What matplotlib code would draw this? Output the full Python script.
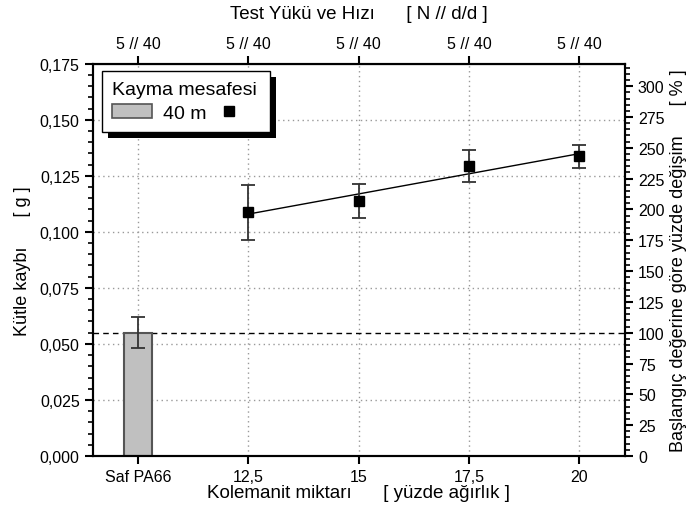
import numpy as np
import matplotlib
matplotlib.use('Agg')
import matplotlib.pyplot as plt
from matplotlib.ticker import MultipleLocator, FuncFormatter
from matplotlib.patches import Patch, Rectangle
from matplotlib.lines import Line2D

plt.rcParams['font.family'] = ['Liberation Sans', 'DejaVu Sans']

# veriler
categories = ['Saf PA66', '12,5', '15', '17,5', '20']
top_labels = ['5 // 40', '5 // 40', '5 // 40', '5 // 40', '5 // 40']
bar_value = 0.055
bar_err_lo = 0.007
bar_err_hi = 0.007
pt_values = [0.1089, 0.1138, 0.1293, 0.1337]
pt_err_lo = [0.0125, 0.0075, 0.0070, 0.0053]
pt_err_hi = [0.0121, 0.0076, 0.0072, 0.0049]

dark = '#333333'
xpos = np.arange(len(categories))
tick_fs = 11.5

fig = plt.figure(figsize=(6.88, 5.10), dpi=100)
ax = fig.add_axes([0.135, 0.104, 0.773, 0.769])

ax.set_xlim(-0.41, 4.41)
ax.set_ylim(0, 0.175)

# izgara
for yv in np.arange(0.025, 0.175, 0.025):
    ax.axhline(yv, color='#999999', linestyle=(0, (1, 2.5)), linewidth=1, zorder=0)
for xv in xpos:
    ax.axvline(xv, color='#999999', linestyle=(0, (1, 2.5)), linewidth=1, zorder=0)

# referans çizgisi (%100)
ax.axhline(bar_value, color='black', linestyle=(0, (4, 3)), linewidth=1, zorder=1)

# çubuk
ax.bar(xpos[0], bar_value, width=0.25, color='#c0c0c0', edgecolor='#555555',
       linewidth=1.5, zorder=2)
ax.errorbar(xpos[0], bar_value, yerr=[[bar_err_lo], [bar_err_hi]], fmt='none',
            ecolor=dark, elinewidth=1.3, capsize=5, capthick=1.3, zorder=3)

# noktalar ve doğrusal uyum
xp = xpos[1:]
coef = np.polyfit(xp, pt_values, 1)
ax.plot(xp, np.polyval(coef, xp), color='black', linewidth=1, zorder=3)
ax.errorbar(xp, pt_values, yerr=[pt_err_lo, pt_err_hi], fmt='none',
            ecolor=dark, elinewidth=1.3, capsize=5, capthick=1.3, zorder=3)
ax.plot(xp, pt_values, 's', color='black', markersize=7.5, zorder=4)

comma = FuncFormatter(lambda v, p: f'{v:.3f}'.replace('.', ','))
ax.yaxis.set_major_locator(MultipleLocator(0.025))
ax.yaxis.set_minor_locator(MultipleLocator(0.005))
ax.yaxis.set_major_formatter(comma)
ax.set_xticks(xpos)
ax.set_xticklabels(categories)

ax.tick_params(axis='both', which='major', direction='out', length=6, width=1.5,
               labelsize=tick_fs, color='black')
ax.tick_params(axis='y', which='minor', direction='out', length=3.5, width=1.2)
for s in ax.spines.values():
    s.set_linewidth(1.5)

ax.set_ylabel('Kütle kaybı      [ g ]', fontsize=13, labelpad=6)
ax.set_xlabel('Kolemanit miktarı      [ yüzde ağırlık ]', fontsize=13.5, labelpad=0)

# üst eksen
top = ax.secondary_xaxis('top')
top.set_xticks(xpos)
top.set_xticklabels(top_labels)
top.tick_params(direction='out', length=6, width=1.5, labelsize=tick_fs)
top.set_xlabel('Test Yükü ve Hızı      [ N // d/d ]', fontsize=13.5, labelpad=13)

# sağ eksen (yüzde)
ax2 = ax.twinx()
ax2.set_ylim(0, 0.175 / bar_value * 100)
ax2.yaxis.set_major_locator(MultipleLocator(25))
ax2.yaxis.set_minor_locator(MultipleLocator(5))
ax2.tick_params(axis='y', which='major', direction='out', length=6, width=1.5,
                labelsize=tick_fs)
ax2.tick_params(axis='y', which='minor', direction='out', length=3.5, width=1.2)
for s in ax2.spines.values():
    s.set_linewidth(1.5)
ax2.set_ylabel('Başlangıç değerine göre yüzde değişim      [ % ]', fontsize=13,
               labelpad=4)

# gösterge
handles = [Patch(facecolor='#c0c0c0', edgecolor='#555555', linewidth=1.2),
           Line2D([], [], marker='s', color='black', linestyle='none', markersize=7)]
labels = ['40 m', '']
leg = ax2.legend(handles, labels, title='Kayma mesafesi', ncol=2, fontsize=14,
                 title_fontsize=14, fancybox=False, framealpha=1,
                 handlelength=2.05, handleheight=0.72, handletextpad=0.6,
                 columnspacing=0.1, borderpad=0.5, labelspacing=0.35,
                 alignment='left', loc='upper left', borderaxespad=0,
                 bbox_to_anchor=(0.017, 0.982))
leg.get_frame().set_edgecolor('black')
leg.get_frame().set_linewidth(1)
leg.set_zorder(6)

# gölge
fig.canvas.draw()
bb = leg.get_window_extent()
inv = ax2.transAxes.inverted()
(x0, y0), (x1, y1) = inv.transform([(bb.x0 + 6, bb.y0 - 6), (bb.x1 + 6, bb.y1 - 6)])
ax2.add_patch(Rectangle((x0, y0), x1 - x0, y1 - y0, transform=ax2.transAxes,
                        facecolor='black', edgecolor='none', zorder=5.5,
                        clip_on=False))

fig.savefig('out.png', dpi=100)
